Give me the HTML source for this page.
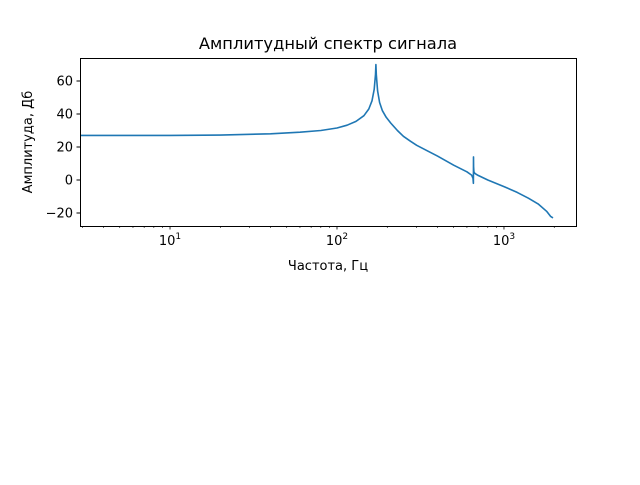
<!DOCTYPE html>
<html><head><meta charset="utf-8"><style>
body{margin:0;background:#fff;}
text{font-family:"DejaVu Sans","Liberation Sans",sans-serif;fill:#000;}
</style></head><body>
<svg id="chart" width="640" height="480">
<rect width="640" height="480" fill="#fff"/>
<text x="328" y="49" font-size="16.3" text-anchor="middle">Амплитудный спектр сигнала</text>
<g id="plot"></g>
<rect x="80.5" y="58.5" width="496" height="168" fill="none" stroke="#000" stroke-width="1"/>
<text x="328" y="270" font-size="13" text-anchor="middle">Частота, Гц</text>
<text transform="translate(32,142) rotate(-90)" font-size="13" text-anchor="middle">Амплитуда, Дб</text>
</svg>
<script>
const freqs=[2.89,10,20,40,60,80,100,115,130,145,155,162,167,170,171,172,175,180,187,197,210,230,250,275,300,350,400,500,600,640,652,656,657,658,661,670,700,800,1000,1200,1400,1600,1800,1900,1965];
const amps=[27,27,27.2,28,29,30,31.5,33.2,35.5,39,43,48,55,64,70,64,54,47,42,38,34.5,30,26.5,23.5,21,17.5,14.5,9,5,3,1,-2,14,8,5,4,2.8,0,-4,-7.5,-11,-14.5,-19,-22,-23];
const yTicks=[-20,0,20,40,60];
const xMajor=[1,2,3];
const L=80,R=576,T=58,B=226;
const lmin=Math.log10(2.89),lmax=Math.log10(2700);
function X(f){return L+(Math.log10(f)-lmin)/(lmax-lmin)*(R-L);}
function Y(v){return 180+(0-v)*1.65;}
const g=document.getElementById('plot');
const ns='http://www.w3.org/2000/svg';
function el(t,a){const e=document.createElementNS(ns,t);for(const k in a)e.setAttribute(k,a[k]);g.appendChild(e);return e;}
yTicks.forEach(v=>{
 const y=Y(v);
 const t=el('line',{x1:L-3.5,x2:L,y1:y,y2:y,stroke:'#000'});
 
 
 const lb=el('text',{x:L-7,y:y+4.5,'font-size':13,'text-anchor':'end'});
 lb.textContent=(v<0?'\u2212':'')+Math.abs(v);
 
 
});
for(let d=0;d<=3;d++){for(let m=1;m<10;m++){
 const f=m*Math.pow(10,d);const x=X(f);
 if(x<L||x>R)continue;
 const major=m===1;
 const t=el('line',{x1:x,x2:x,y1:B,y2:B+(major?3.5:2),stroke:'#000','stroke-width':major?0.8:0.6});
 
 
 if(major&&xMajor.includes(d)){
  const lb=el('text',{x:x,y:B+19,'font-size':13,'text-anchor':'middle'});
  lb.textContent='10';
  const s=document.createElementNS(ns,'tspan');s.setAttribute('dy','-6');s.setAttribute('font-size','9');s.textContent=d;lb.appendChild(s);
  
  
 }
}}
const p=el('path',{d:freqs.map((f,i)=>(i?'L':'M')+Math.max(X(f),L).toFixed(1)+','+Y(amps[i]).toFixed(1)).join(''),fill:'none',stroke:'#1f77b4','stroke-width':1.6,'stroke-linejoin':'round'});


</script>
</body></html>
